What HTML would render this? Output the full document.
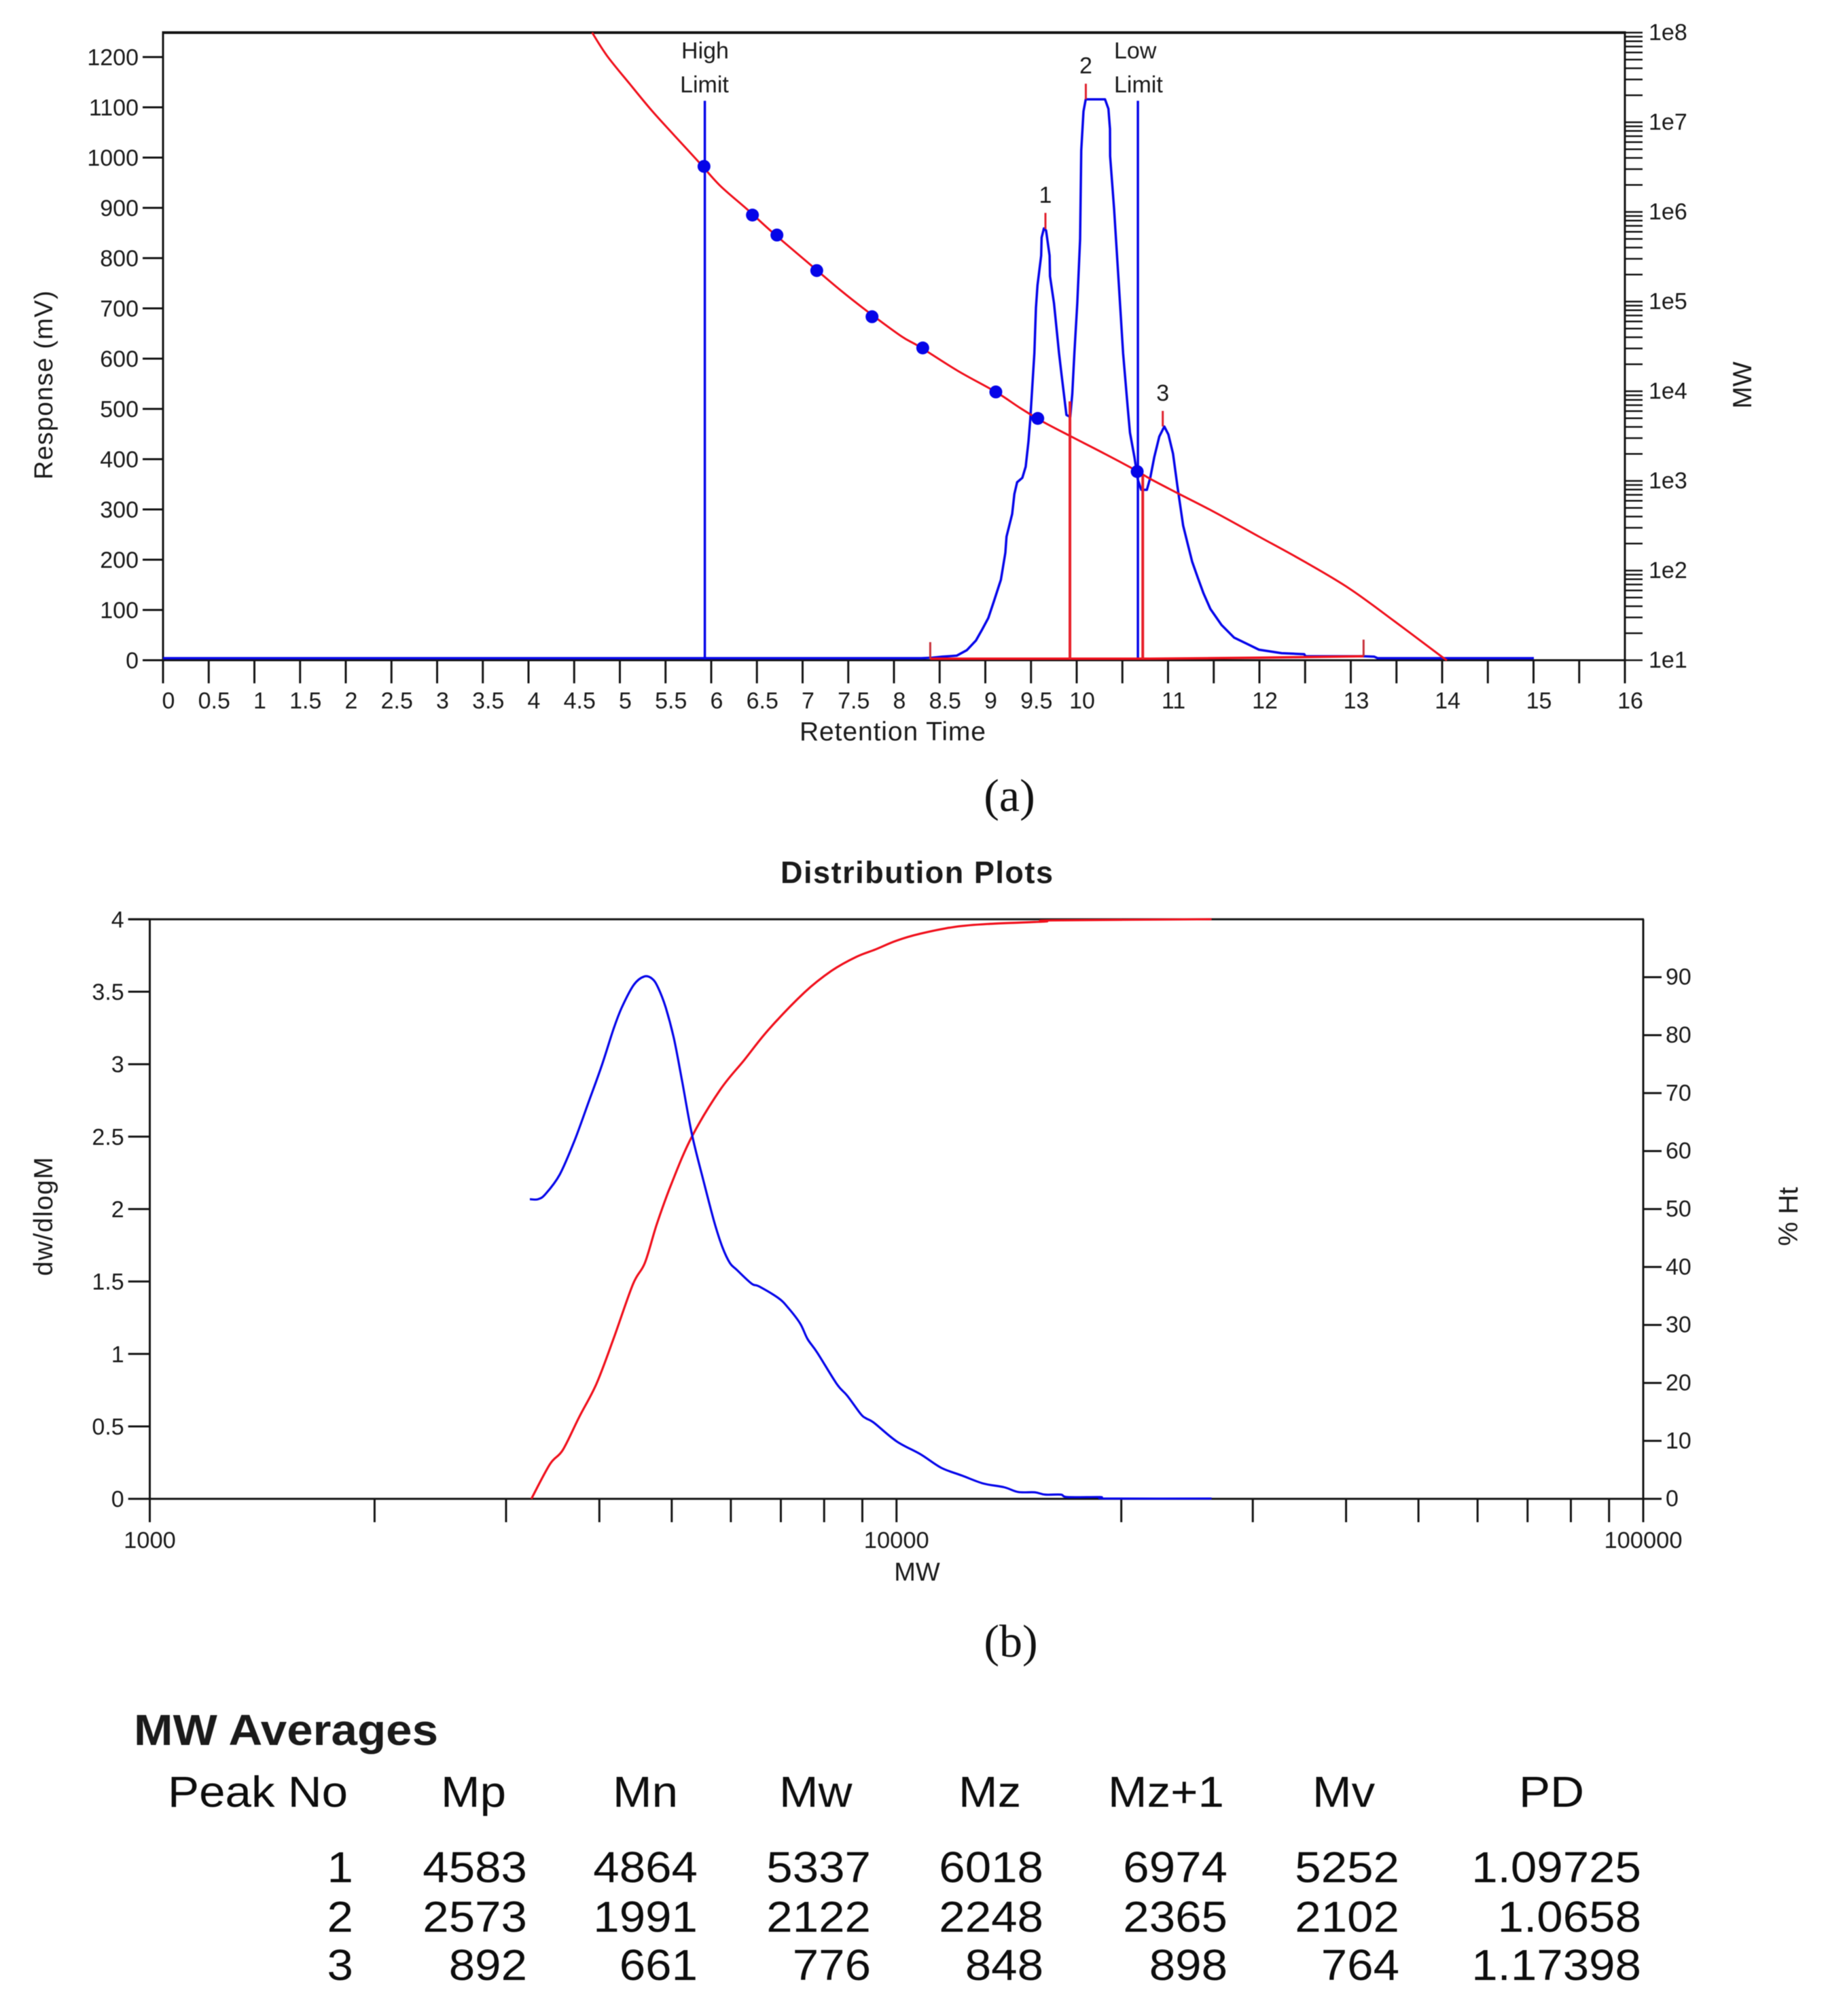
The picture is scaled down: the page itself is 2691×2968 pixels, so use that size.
<!DOCTYPE html>
<html lang="en">
<head>
<meta charset="utf-8">
<title>GPC chromatogram, distribution plot and MW averages</title>
<style>
  html, body { margin: 0; padding: 0; background: #fff; }
  svg { display: block; filter: blur(0.6px); }
  text { font-family: "Liberation Sans", Arial, sans-serif; fill: #1a1a1a; }
  .serif { font-family: "Liberation Serif", serif; fill: #111; }
  .tbl { font-size: 64px; fill: #0d0d0d; }
</style>
</head>
<body>
<svg id="fig" xmlns="http://www.w3.org/2000/svg" width="2691" height="2968" viewBox="0 0 2691 2968">
  <rect x="0" y="0" width="2691" height="2968" fill="#fff"/>

  <g id="chartA"></g>
  <text font-size="38" text-anchor="middle" textLength="278" transform="translate(77,567) rotate(-90)">Response (mV)</text>
  <text font-size="39" text-anchor="middle" transform="translate(2578,567) rotate(-90)">MW</text>
  <text font-size="39" x="1177" y="1090" textLength="274">Retention Time</text>
  <text font-size="34" x="1038" y="86" text-anchor="middle">High</text>
  <text font-size="34" x="1037" y="136" text-anchor="middle">Limit</text>
  <text font-size="34" x="1640" y="86">Low</text>
  <text font-size="34" x="1640" y="136">Limit</text>
  <text class="serif" font-size="68" x="1486" y="1194" text-anchor="middle">(a)</text>

  <text font-size="45" font-weight="700" x="1149" y="1300" textLength="401">Distribution Plots</text>
  <g id="chartB"></g>
  <text font-size="39" text-anchor="middle" textLength="175" transform="translate(77,1791) rotate(-90)">dw/dlogM</text>
  <text font-size="40" text-anchor="middle" transform="translate(2646,1791) rotate(-90)">% Ht</text>
  <text font-size="38" x="1350" y="2327" text-anchor="middle">MW</text>
  <text class="serif" font-size="68" x="1488" y="2439" text-anchor="middle">(b)</text>

  <g>
    <text font-size="64" font-weight="700" transform="translate(197,2569) scale(1.08,1)">MW Averages</text>
    <text class="tbl" transform="translate(247,2660) scale(1.08,1)">Peak No</text>
    <text class="tbl" transform="translate(649,2660) scale(1.08,1)">Mp</text>
    <text class="tbl" transform="translate(902,2660) scale(1.08,1)">Mn</text>
    <text class="tbl" transform="translate(1147,2660) scale(1.08,1)">Mw</text>
    <text class="tbl" transform="translate(1411,2660) scale(1.08,1)">Mz</text>
    <text class="tbl" transform="translate(1631,2660) scale(1.08,1)">Mz+1</text>
    <text class="tbl" transform="translate(1932,2660) scale(1.08,1)">Mv</text>
    <text class="tbl" transform="translate(2236,2660) scale(1.08,1)">PD</text>

    <g text-anchor="end">
      <text class="tbl" transform="translate(520,2771) scale(1.08,1)">1</text>
      <text class="tbl" transform="translate(776,2771) scale(1.08,1)">4583</text>
      <text class="tbl" transform="translate(1027,2771) scale(1.08,1)">4864</text>
      <text class="tbl" transform="translate(1282,2771) scale(1.08,1)">5337</text>
      <text class="tbl" transform="translate(1536,2771) scale(1.08,1)">6018</text>
      <text class="tbl" transform="translate(1807,2771) scale(1.08,1)">6974</text>
      <text class="tbl" transform="translate(2060,2771) scale(1.08,1)">5252</text>
      <text class="tbl" transform="translate(2416,2771) scale(1.08,1)">1.09725</text>
    </g>
    <g text-anchor="end">
      <text class="tbl" transform="translate(520,2844) scale(1.08,1)">2</text>
      <text class="tbl" transform="translate(776,2844) scale(1.08,1)">2573</text>
      <text class="tbl" transform="translate(1027,2844) scale(1.08,1)">1991</text>
      <text class="tbl" transform="translate(1282,2844) scale(1.08,1)">2122</text>
      <text class="tbl" transform="translate(1536,2844) scale(1.08,1)">2248</text>
      <text class="tbl" transform="translate(1807,2844) scale(1.08,1)">2365</text>
      <text class="tbl" transform="translate(2060,2844) scale(1.08,1)">2102</text>
      <text class="tbl" transform="translate(2416,2844) scale(1.08,1)">1.0658</text>
    </g>
    <g text-anchor="end">
      <text class="tbl" transform="translate(520,2915) scale(1.08,1)">3</text>
      <text class="tbl" transform="translate(776,2915) scale(1.08,1)">892</text>
      <text class="tbl" transform="translate(1027,2915) scale(1.08,1)">661</text>
      <text class="tbl" transform="translate(1282,2915) scale(1.08,1)">776</text>
      <text class="tbl" transform="translate(1536,2915) scale(1.08,1)">848</text>
      <text class="tbl" transform="translate(1807,2915) scale(1.08,1)">898</text>
      <text class="tbl" transform="translate(2060,2915) scale(1.08,1)">764</text>
      <text class="tbl" transform="translate(2416,2915) scale(1.08,1)">1.17398</text>
    </g>
  </g>
</svg>

<script>
// ---------- Chart (a) data ----------
const timeTickValues = [0,0.5,1,1.5,2,2.5,3,3.5,4,4.5,5,5.5,6,6.5,7,7.5,8,8.5,9,9.5,10,10.5,11,11.5,12,12.5,13,13.5,14,14.5,15,15.5,16];
const timeTickLabels = ['0','0.5','1','1.5','2','2.5','3','3.5','4','4.5','5','5.5','6','6.5','7','7.5','8','8.5','9','9.5','10','11','12','13','14','15','16'];
const responseTickLabels = ['0','100','200','300','400','500','600','700','800','900','1000','1100','1200'];
const mwDecades = [1,2,3,4,5,6,7];
const mwMinorFactors = [1,2,3,4,5,6,7,8,9];
const mwTickLabels = ['1e1','1e2','1e3','1e4','1e5','1e6','1e7','1e8'];

const traceTimes = [0,8.3,8.42,8.526,8.686,8.798,8.897,8.959,9.033,9.095,9.170,9.219,9.232,9.294,9.318,9.348,9.405,9.442,9.472,9.492,9.537,9.554,9.571,9.611,9.616,9.641,9.665,9.703,9.708,9.752,9.807,9.836,9.888,9.929,9.952,9.975,10.007,10.037,10.050,10.074,10.099,10.310,10.347,10.364,10.366,10.409,10.459,10.508,10.558,10.583,10.632,10.669,10.706,10.768,10.805,10.849,10.904,10.959,11.004,11.054,11.103,11.165,11.214,11.264,11.326,11.388,11.463,11.586,11.723,11.871,11.995,12.243,12.491,12.503,13.135,13.257,13.294,15.004];
const traceResponse = [4,4,5,7,9,20,39,59,84,118,160,214,246,291,331,354,363,385,435,480,611,701,746,805,841,859,855,805,764,710,611,566,488,484,530,611,711,837,1014,1092,1116,1116,1097,1057,1003,899,755,611,503,453,404,359,339,339,363,404,445,465,449,411,345,268,232,196,164,133,102,70,45,32,21,14,12,8,8,7,4,4];

const calCurveTimes = [4.697,4.857,5.106,5.353,5.601,5.874,6.097,6.394,6.667,7.088,7.410,7.708,8.080,8.275,8.699,9.115,9.393,9.641,9.926,10.310,10.654,10.805,11.103,11.499,11.995,12.491,12.987,13.482,13.978,14.052];
const calCurveLogMW = [8.000,7.745,7.430,7.126,6.848,6.545,6.293,6.028,5.775,5.409,5.131,4.892,4.614,4.500,4.227,3.992,3.805,3.654,3.502,3.301,3.114,3.023,2.864,2.657,2.379,2.101,1.798,1.432,1.053,1.000];

const standardTimes = [5.921,6.451,6.719,7.155,7.760,8.315,9.115,9.574,10.662];
const standardLogMW = [6.508,5.965,5.742,5.346,4.831,4.483,3.992,3.697,3.104];

const limitTimes = [5.93,10.67];
const limitTopResponse = [1113,1113];

const dividerTimes = [9.926,10.723];
const dividerTopResponse = [515,368];

const peakNames = ['1','2','3'];
const peakTimes = [9.658,10.100,10.942];
const peakBaseResponse = [858,1116,465];
const peakTopResponse = [890,1147,496];

const baselineTimes = [8.397,10.8,12,13.14];
const baselineResponse = [3,3,5,8];
const baselineMarkTops = [36,41];

// ---------- Chart (b) data ----------
const percentTickLabels = ['0','10','20','30','40','50','60','70','80','90'];
const dwTickLabels = ['0','0.5','1','1.5','2','2.5','3','3.5','4'];
const mwXTickValues = [1000,2000,3000,4000,5000,6000,7000,8000,9000,10000,20000,30000,40000,50000,60000,70000,80000,90000,100000];
const mwXTickLabels = ['1000','10000','100000'];

const dwLogM = [3.509,3.520,3.530,3.549,3.569,3.588,3.605,3.621,3.632,3.648,3.662,3.673,3.681,3.691,3.702,3.713,3.726,3.741,3.756,3.767,3.777,3.786,3.806,3.816,3.842,3.855,3.871,3.881,3.894,3.920,3.934,3.952,3.959,3.970,4.000,4.032,4.060,4.088,4.116,4.144,4.163,4.185,4.199,4.220,4.229,4.273,4.283,4.422];
const dwValues = [2.068,2.068,2.104,2.238,2.475,2.744,2.986,3.242,3.390,3.546,3.605,3.589,3.525,3.390,3.175,2.879,2.516,2.206,1.910,1.735,1.627,1.581,1.485,1.466,1.385,1.318,1.210,1.102,1.008,0.793,0.712,0.586,0.556,0.524,0.397,0.308,0.214,0.160,0.106,0.080,0.047,0.045,0.029,0.029,0.012,0.012,0.002,0.002];

const cumLogM = [3.511,3.536,3.553,3.575,3.598,3.621,3.647,3.663,3.679,3.699,3.726,3.764,3.796,3.829,3.877,3.913,3.946,3.972,4.000,4.032,4.079,4.125,4.199,4.208,4.422];
const cumPercent = [0,6.0,8.4,14.1,19.8,27.6,37.0,40.7,47.4,54.5,62.5,70.6,75.7,81.0,87.4,91.1,93.5,94.8,96.3,97.5,98.7,99.2,99.6,99.8,100];

// ---------- Axis functions ----------
const xTime = t => 240 + t * 134.5;
const yResponse = v => 972 - v * 0.74;
const yLogMW = l => 972 - (l - 1) * 132;
const xLogM = l => 220.5 + (l - 3) * 1099.25;
const yDw = v => 2206.6 - v * 213.3;
const yPercent = p => 2206.6 - p * 8.533;

const BLUE = '#0606ea';
const RED = '#f0101c';
const INK = '#141414';
const NS = 'http://www.w3.org/2000/svg';

function line(parent, x1, y1, x2, y2, color, w) {
  const el = document.createElementNS(NS, 'line');
  el.setAttribute('x1', x1); el.setAttribute('y1', y1);
  el.setAttribute('x2', x2); el.setAttribute('y2', y2);
  el.setAttribute('stroke', color); el.setAttribute('stroke-width', w);
  parent.appendChild(el);
  return el;
}
function label(parent, str, x, y, size, anchor) {
  const el = document.createElementNS(NS, 'text');
  el.setAttribute('x', x); el.setAttribute('y', y);
  el.setAttribute('font-size', size); el.setAttribute('text-anchor', anchor);
  el.textContent = str;
  parent.appendChild(el);
  return el;
}
function curve(parent, xs, ys, fx, fy, color, w, smooth) {
  const el = document.createElementNS(NS, 'path');
  const px = xs.map(fx);
  const py = ys.map(fy);
  let d = 'M' + px[0].toFixed(1) + ' ' + py[0].toFixed(1);
  for (let i = 1; i < px.length; i++) {
    if (smooth) {
      const a = Math.max(i - 2, 0);
      const b = Math.min(i + 1, px.length - 1);
      const c1x = px[i - 1] + (px[i] - px[a]) / 6;
      const c1y = py[i - 1] + (py[i] - py[a]) / 6;
      const c2x = px[i] - (px[b] - px[i - 1]) / 6;
      const c2y = py[i] - (py[b] - py[i - 1]) / 6;
      d += 'C' + c1x.toFixed(1) + ' ' + c1y.toFixed(1) + ' ' + c2x.toFixed(1) + ' ' + c2y.toFixed(1) + ' ' + px[i].toFixed(1) + ' ' + py[i].toFixed(1);
    } else {
      d += 'L' + px[i].toFixed(1) + ' ' + py[i].toFixed(1);
    }
  }
  el.setAttribute('d', d);
  el.setAttribute('fill', 'none');
  el.setAttribute('stroke', color);
  el.setAttribute('stroke-width', w);
  el.setAttribute('stroke-linejoin', 'round');
  parent.appendChild(el);
  return el;
}

// ---------- Draw chart (a) ----------
const A = document.getElementById('chartA');
{
  let el;
  el = line(A, 240, yLogMW(8), 2392, yLogMW(8), INK, 4);
  
  
  el = line(A, 240, yLogMW(8) - 2, 240, 972, INK, 3);
  
  
  el = line(A, 2392, yLogMW(8) - 2, 2392, 972, INK, 3);
  
  
  el = line(A, 240, 972, 2392, 972, INK, 3);
  
  

  timeTickValues.forEach(t => {
    const tick = line(A, xTime(t), 972, xTime(t), 1006, INK, 3);
    
    
  });
  timeTickLabels.forEach(s => {
    const lab = label(A, s, xTime(Number(s)) + 8, 1043, 34, 'middle');
    
    
  });
  responseTickLabels.forEach(s => {
    const v = Number(s);
    const tick = line(A, 210, yResponse(v), 240, yResponse(v), INK, 3);
    
    
    const lab = label(A, s, 204, yResponse(v) + 12, 34, 'end');
    
    
  });
  mwDecades.forEach(d => {
    mwMinorFactors.forEach(f => {
      const l = d + Math.log10(f);
      const tick = line(A, 2392, yLogMW(l), 2418, yLogMW(l), INK, 2.5);
      
      
    });
  });
  const topTick = line(A, 2392, yLogMW(8), 2418, yLogMW(8), INK, 2.5);
  
  
  mwTickLabels.forEach(s => {
    const l = Number(s.split('e')[1]);
    const lab = label(A, s, 2427, yLogMW(l) + 11, 34, 'start');
    
    
  });

  const trace = curve(A, traceTimes, traceResponse, xTime, yResponse, BLUE, 3.5, false);
  
  

  limitTimes.forEach((t, i) => {
    const lim = line(A, xTime(t), yResponse(limitTopResponse[i]), xTime(t), 971, BLUE, 3.5);
    
    
  });

  const cal = curve(A, calCurveTimes, calCurveLogMW, xTime, yLogMW, RED, 3, true);
  
  

  const base = curve(A, baselineTimes, baselineResponse, xTime, yResponse, RED, 3.5, false);
  
  

  [0, baselineTimes.length - 1].forEach((idx, i) => {
    const t = baselineTimes[idx];
    const m = line(A, xTime(t), yResponse(baselineMarkTops[i]), xTime(t), yResponse(baselineResponse[idx]), '#c8303a', 3);
    
    
  });

  dividerTimes.forEach((t, i) => {
    const dv = line(A, xTime(t), yResponse(dividerTopResponse[i]), xTime(t), 970, '#e8202a', 4);
    
    
  });

  peakTimes.forEach((t, i) => {
    const m = line(A, xTime(t), yResponse(peakTopResponse[i]), xTime(t), yResponse(peakBaseResponse[i]), '#e0202c', 3);
    
    
    const lab = label(A, peakNames[i], xTime(t), yResponse(peakTopResponse[i]) - 15, 34, 'middle');
    
    
  });

  standardTimes.forEach((t, i) => {
    const c = document.createElementNS(NS, 'circle');
    c.setAttribute('cx', xTime(t));
    c.setAttribute('cy', yLogMW(standardLogMW[i]));
    c.setAttribute('r', 9.5);
    c.setAttribute('fill', '#0505e8');
    
    
    A.appendChild(c);
  });
}

// ---------- Draw chart (b) ----------
const B = document.getElementById('chartB');
{
  let el;
  el = line(B, 188.7, yDw(4), 2420, yDw(4), INK, 3);
  
  
  el = line(B, xLogM(3), yDw(4), xLogM(3), yDw(0), INK, 3);
  
  
  el = line(B, xLogM(5), yDw(4), xLogM(5), yDw(0), INK, 3);
  
  
  el = line(B, xLogM(3), yDw(0), xLogM(5), yDw(0), INK, 3);
  
  

  dwTickLabels.forEach(s => {
    const v = Number(s);
    const tick = line(B, 188.7, yDw(v), 220.5, yDw(v), INK, 3);
    
    
    const lab = label(B, s, 182.7, yDw(v) + 12, 34, 'end');
    
    
  });
  percentTickLabels.forEach(s => {
    const p = Number(s);
    const tick = line(B, 2419, yPercent(p), 2446, yPercent(p), INK, 3);
    
    
    const lab = label(B, s, 2452, yPercent(p) + 11, 34, 'start');
    
    
  });
  mwXTickValues.forEach(m => {
    const x = xLogM(Math.log10(m));
    const tick = line(B, x, yDw(0), x, 2241, INK, 3);
    
    
  });
  mwXTickLabels.forEach(s => {
    const lab = label(B, s, xLogM(Math.log10(Number(s))), 2279, 34.5, 'middle');
    
    
  });

  const cum = curve(B, cumLogM, cumPercent, xLogM, yPercent, RED, 3.2, true);
  
  

  const dw = curve(B, dwLogM, dwValues, xLogM, yDw, BLUE, 3.2, true);
  
  
}
</script>
</body>
</html>
